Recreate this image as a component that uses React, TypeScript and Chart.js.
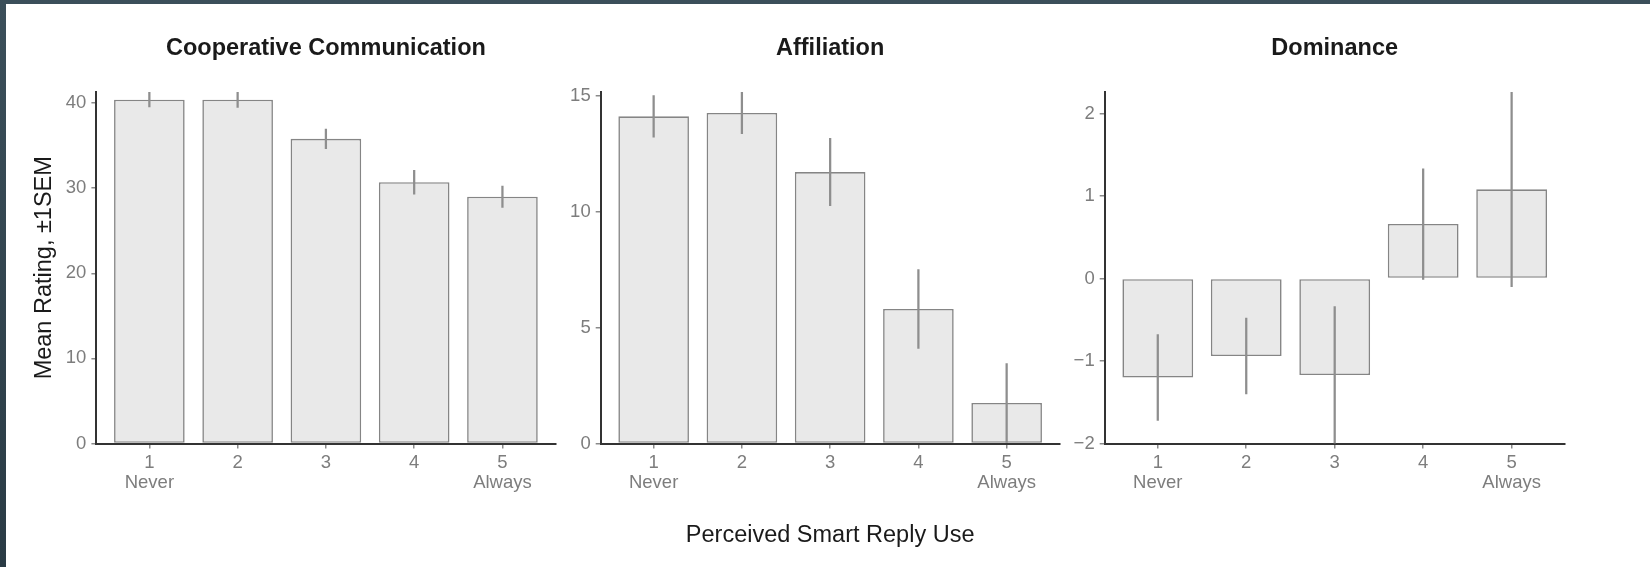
import React, { useEffect, useRef } from 'react';
import { Chart, registerables } from 'chart.js';

Chart.register(...registerables);

// ---------------- data ----------------
const categories = [1, 2, 3, 4, 5];
const xTickLabels = ['1', '2', '3', '4', '5'];
const xTickSubLabels = ['Never', '', '', '', 'Always'];

const panelTitles = ['Cooperative Communication', 'Affiliation', 'Dominance'];

const coopMeans = [40.4, 40.4, 35.8, 30.7, 29.0];
const coopSEM = [0.85, 0.9, 1.15, 1.4, 1.25];
const coopTicks = [0, 10, 20, 30, 40];

const affMeans = [14.1, 14.25, 11.7, 5.8, 1.75];
const affSEM = [0.9, 0.9, 1.45, 1.7, 1.7];
const affTicks = [0, 5, 10, 15];

const domMeans = [-1.2, -0.94, -1.17, 0.66, 1.08];
const domSEM = [0.52, 0.46, 0.83, 0.67, 1.18];
const domTicks = [-2, -1, 0, 1, 2];

const yAxisTitle = 'Mean Rating, \u00b11SEM';
const xAxisTitle = 'Perceived Smart Reply Use';

// ---------------- layout / style ----------------
const W = 1650;
const H = 567;
const FAMILY = "'Liberation Sans', Arial, Helvetica, sans-serif";
const PLOT_TOP = 92;
const PLOT_BOTTOM = 443.5;
const Y_AXIS_W = 50;
const X_AXIS_H = 60;
const TITLE_PAD_TOP = 34.5;
const PANEL_X = [
  { left: 96.4, right: 555.4 },
  { left: 600.7, right: 1059.6 },
  { left: 1104.7, right: 1564.7 },
];

const round3 = (v: number) => Math.round(v * 1000) / 1000;
const fmtTick = (v: number) => (v < 0 ? '\u2212' + Math.abs(v) : String(v));

const axisTitlesPlugin = {
  id: 'axisTitles',
  afterDraw(chart: any, _args: any, opts: any) {
    const { ctx, chartArea } = chart;
    ctx.save();
    ctx.fillStyle = '#1a1a1a';
    ctx.font = `23.5px ${FAMILY}`;
    ctx.textAlign = 'center';
    ctx.textBaseline = 'middle';
    if (opts && opts.yTitle) {
      ctx.save();
      ctx.translate(chartArea.left - 51.8, (chartArea.top + chartArea.bottom) / 2);
      ctx.rotate(-Math.PI / 2);
      ctx.fillText(opts.yTitle, 0, 0);
      ctx.restore();
    }
    if (opts && opts.xTitle) {
      ctx.fillText(opts.xTitle, (chartArea.left + chartArea.right) / 2, chartArea.bottom + 92.5);
    }
    ctx.restore();
  },
};

type PanelProps = {
  idx: number;
  title: string;
  means: number[];
  sems: number[];
  ticks: number[];
  yTitle?: string;
  xTitle?: string;
};

function Panel({ idx, title, means, sems, ticks, yTitle, xTitle }: PanelProps) {
  const ref = useRef<HTMLCanvasElement | null>(null);

  useEffect(() => {
    if (!ref.current) return;
    const lo = means.map((m, i) => round3(m - sems[i]));
    const hi = means.map((m, i) => round3(m + sems[i]));
    const yMin = Math.min(0, ...lo);
    const yMax = Math.max(0, ...hi);
    const px = PANEL_X[idx];

    const chart = new Chart(ref.current, {
      type: 'bar',
      data: {
        datasets: [
          {
            label: 'SEM',
            data: categories.map((c, i) => ({ x: c, y: [lo[i], hi[i]] })) as any,
            backgroundColor: '#8e8e8e',
            borderWidth: 0,
            barThickness: 1.6,
            grouped: false,
            order: 0,
          } as any,
          {
            label: 'Mean',
            data: categories.map((c, i) => ({ x: c, y: means[i] })) as any,
            backgroundColor: '#e9e9e9',
            borderColor: '#858585',
            borderWidth: 1.6,
            borderSkipped: false,
            barPercentage: 0.8,
            categoryPercentage: 1,
            grouped: false,
            order: 1,
          } as any,
        ],
      },
      plugins: [axisTitlesPlugin as any],
      options: {
        animation: false,
        responsive: false,
        maintainAspectRatio: false,
        devicePixelRatio: 1,
        layout: {
          padding: {
            left: px.left - Y_AXIS_W,
            right: W - px.right,
            top: 0,
            bottom: H - PLOT_BOTTOM - X_AXIS_H,
          },
        },
        plugins: {
          legend: { display: false },
          tooltip: { enabled: false },
          title: {
            display: true,
            text: title,
            fullSize: false,
            color: '#1a1a1a',
            font: { family: FAMILY, size: 23.5, weight: 'bold', lineHeight: 1.2 },
            padding: { top: TITLE_PAD_TOP, bottom: PLOT_TOP - TITLE_PAD_TOP - 23.5 * 1.2 },
          },
          axisTitles: { yTitle, xTitle },
        } as any,
        scales: {
          x: {
            type: 'linear',
            bounds: 'data',
            offset: false,
            min: categories[0] - 0.6,
            max: categories[categories.length - 1] + 0.6,
            afterBuildTicks: (s: any) => {
              s.ticks = categories.map((v) => ({ value: v }));
            },
            afterFit: (s: any) => {
              s.height = X_AXIS_H;
            },
            ticks: {
              color: '#7d7d7d',
              font: { family: FAMILY, size: 18.5, lineHeight: 1.08 },
              padding: 4.2,
              maxRotation: 0,
              autoSkip: false,
              callback: (v: any) => {
                const i = categories.indexOf(Number(v));
                return [xTickLabels[i], xTickSubLabels[i]];
              },
            },
            grid: {
              display: true,
              offset: false,
              drawOnChartArea: false,
              drawTicks: true,
              tickLength: 5,
              color: '#8a8a8a',
              lineWidth: 1.5,
            },
            border: { display: true, color: '#333333', width: 2 },
          } as any,
          y: {
            type: 'linear',
            bounds: 'data',
            min: yMin,
            max: yMax,
            afterBuildTicks: (s: any) => {
              s.ticks = ticks.map((v) => ({ value: v }));
            },
            afterFit: (s: any) => {
              s.width = Y_AXIS_W;
            },
            ticks: {
              color: '#7d7d7d',
              font: { family: FAMILY, size: 18.5 },
              padding: 5,
              callback: (v: any) => fmtTick(Number(v)),
            },
            grid: {
              display: true,
              drawOnChartArea: false,
              drawTicks: true,
              tickLength: 5,
              color: '#8a8a8a',
              lineWidth: 1.5,
            },
            border: { display: true, color: '#333333', width: 2 },
          } as any,
        },
      },
    });
    return () => chart.destroy();
  }, [idx, title, means, sems, ticks, yTitle, xTitle]);

  return (
    <canvas
      ref={ref}
      width={W}
      height={H}
      style={{ position: 'absolute', left: 0, top: 0, width: W, height: H }}
    />
  );
}

export default function App() {
  return (
    <div
      style={{
        position: 'fixed',
        left: 0,
        top: 0,
        width: W,
        height: H,
        overflow: 'hidden',
        background: 'linear-gradient(180deg, #3b4f5a 0%, #2a3b45 100%)',
      }}
    >
      <div
        style={{
          position: 'absolute',
          left: 6,
          top: 4,
          right: 0,
          bottom: 0,
          background: '#ffffff',
        }}
      />
      <Panel idx={0} title={panelTitles[0]} means={coopMeans} sems={coopSEM} ticks={coopTicks} yTitle={yAxisTitle} />
      <Panel idx={1} title={panelTitles[1]} means={affMeans} sems={affSEM} ticks={affTicks} xTitle={xAxisTitle} />
      <Panel idx={2} title={panelTitles[2]} means={domMeans} sems={domSEM} ticks={domTicks} />
    </div>
  );
}
